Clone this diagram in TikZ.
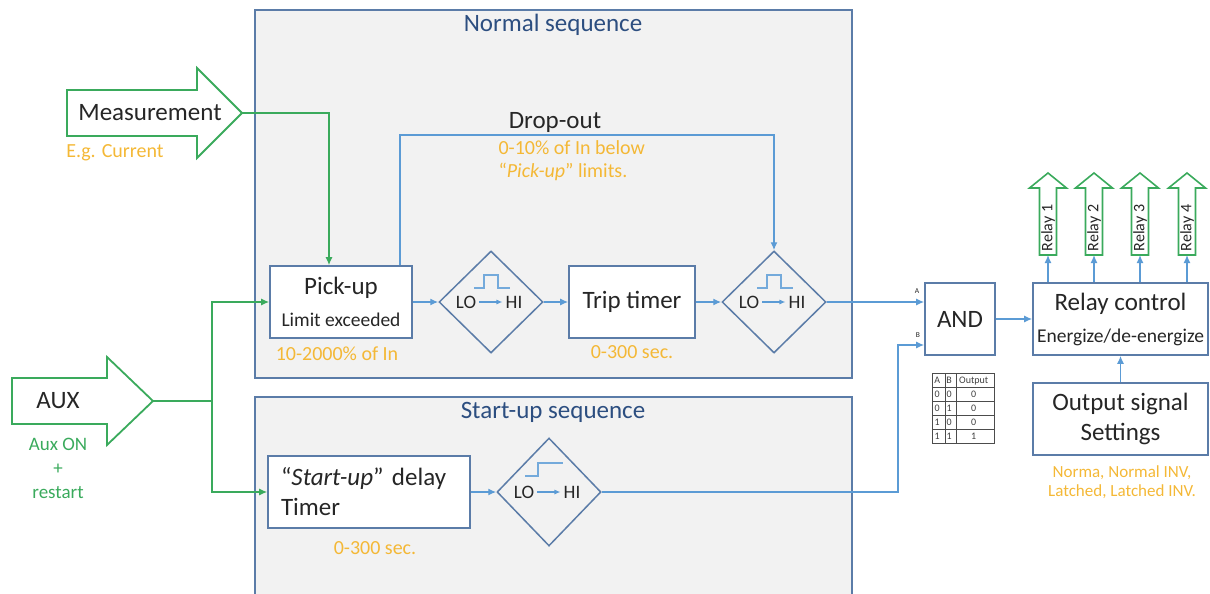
\documentclass[tikz,border=0pt]{standalone}
\usepackage{fontspec}
\setmainfont{Carlito}
\usetikzlibrary{shapes,arrows.meta,positioning,matrix,calc}
\definecolor{boxblue}{RGB}{91,124,168}
\definecolor{lineblue}{RGB}{91,155,213}
\definecolor{signalgreen}{RGB}{58,170,92}
\definecolor{noteorange}{RGB}{244,184,54}
\definecolor{titleblue}{RGB}{44,78,128}
\definecolor{panelgray}{RGB}{242,242,242}

\begin{document}
\begin{tikzpicture}[
    x=1pt, y=-1pt,
    every node/.style={align=center, text=black!85},
    panel/.style={draw=boxblue, fill=panelgray, line width=1.5pt},
    title/.style={text=titleblue, font=\fontsize{25}{30}\selectfont},
    block/.style={rectangle, draw=boxblue, fill=white, line width=1.6pt, inner sep=0pt, font=\fontsize{25}{30}\selectfont},
    gate/.style={diamond, draw=boxblue, line width=1.5pt, minimum width=104pt, minimum height=102pt, inner sep=0pt},
    bigtext/.style={font=\fontsize{25}{30}\selectfont},
    note/.style={text=noteorange, font=\fontsize{20}{23}\selectfont},
    greennote/.style={text=signalgreen, font=\fontsize{19}{24}\selectfont},
    lohi/.style={font=\fontsize{19}{22}\selectfont, inner xsep=3pt, inner ysep=0pt},
    bigarrow/.style={draw=signalgreen, fill=white, line width=1.8pt, line join=miter},
    icon/.style={draw=lineblue!85, line width=1.1pt},
    arrow/.style={draw=lineblue, line width=1.4pt, -{Latex[length=8pt,width=7pt]}},
    garrow/.style={draw=signalgreen, line width=1.4pt, -{Latex[length=8pt,width=7pt]}},
    gline/.style={draw=signalgreen, line width=1.4pt},
    truth/.style={matrix of nodes, column sep=-0.6pt, row sep=-0.6pt,
        nodes={draw=black!70, line width=0.6pt, inner sep=0pt, minimum height=14pt, font=\fontsize{10}{10}\selectfont, text=black!75},
        column 1/.style={nodes={minimum width=13pt}},
        column 2/.style={nodes={minimum width=11pt}},
        column 3/.style={nodes={minimum width=38pt}}}
]
\useasboundingbox (0,0) rectangle (1210,594);
\clip (0,0) rectangle (1210,594);

% Panels
\path[panel] (255,10) rectangle (852,378);
\path[panel] (255,397) rectangle (852,610);
\node[title] (normal_title) at (553,25) {Normal sequence};
\node[title] (startup_title) at (553,412) {Start-up sequence};

% Inputs
\draw[bigarrow] (67,90) -- (197,90) -- (197,68) -- (242,113) -- (197,158) -- (197,136) -- (67,136) -- cycle;
\coordinate (meas_tip) at (242,113);
\node[bigtext] (meas_label) at (150,113) {Measurement};
\node[note] (meas_note) at (115,153) {E.g. Current};

\draw[bigarrow] (12,378) -- (107,378) -- (107,357) -- (153,401) -- (107,445) -- (107,424) -- (12,424) -- cycle;
\coordinate (aux_tip) at (153,401);
\coordinate (aux_split) at (212,401);
\node[bigtext] (aux_label) at (58,401) {AUX};
\node[greennote] (aux_note) at (58,468) {Aux ON\\+\\restart};

% Normal sequence
\node[block, minimum width=142pt, minimum height=72pt] (pickup) at (341,302) {Pick-up\\[2pt]{\fontsize{19.5}{23}\selectfont Limit exceeded}};
\node[note] (pickup_note) at (337,354) {10-2000\% of In};
\node[gate] (hilo_a) at (491,302) {};
\node[block, minimum width=126pt, minimum height=72pt] (trip_timer) at (632,302) {Trip timer};
\node[note] (trip_note) at (632,352) {0-300 sec.};
\node[gate] (hilo_b) at (774,302) {};

\coordinate (drop_corner) at (774,135);
\node[bigtext] (drop_label) at (555,122) {Drop-out};
\node[note, align=left, anchor=west] (drop_note) at (495,161) {0-10\% of In below\\“\textit{Pick-up}” limits.};

% Start-up sequence
\node[block, minimum width=202pt, minimum height=72pt, text width=176pt, align=left] (startup_timer) at (369,492) {“\textit{Start-up}” delay\\Timer};
\node[note] (startup_note) at (375,548) {0-300 sec.};
\node[gate, minimum height=108pt] (hilo_c) at (549,492) {};

% LO -> HI marks
\foreach \hl in {hilo_a,hilo_b,hilo_c} {
    \node[lohi] (\hl_lo) at ([xshift=-25pt]\hl.center) {LO};
    \node[lohi] (\hl_hi) at ([xshift=23pt]\hl.center) {HI};
    \draw[draw=lineblue, line width=1.1pt, -{Latex[length=6pt,width=5pt]}] (\hl_lo) -- (\hl_hi);
}
\foreach \hl in {hilo_a,hilo_b}
    \draw[icon, shift={(\hl.center)}] (-17,-14) -- (-7,-14) -- (-7,-27) -- (7,-27) -- (7,-14) -- (19,-14);
\draw[icon, shift={(hilo_c.center)}] (-24,-16) -- (-11,-16) -- (-11,-29) -- (14,-29);

% Output side
\node[block, minimum width=70pt, minimum height=72pt] (and_gate) at (960,319) {AND};
\node[font=\fontsize{7.5}{8}\selectfont, inner sep=0pt] (in_a) at (917,291) {A};
\node[font=\fontsize{7.5}{8}\selectfont, inner sep=0pt] (in_b) at (918,335) {B};
\coordinate (b_bend) at (898,345);
\matrix[truth, anchor=north west] (truth_table) at (928,369) {
    A & B & Output \\
    0 & 0 & 0 \\
    0 & 1 & 0 \\
    1 & 0 & 0 \\
    1 & 1 & 1 \\
};

\node[block, minimum width=175pt, minimum height=72pt] (relay_ctrl) at (1120.5,319) {Relay control\\[2pt]{\fontsize{19.5}{23}\selectfont Energize/de-energize}};
\node[block, minimum width=175pt, minimum height=72pt] (out_set) at (1120.5,419) {Output signal\\Settings};
\node[note, font=\fontsize{17}{19.5}\selectfont] (out_note) at (1122,482) {Norma, Normal INV,\\Latched, Latched INV.};

% Connections
\draw[garrow] (meas_tip) -| ([xshift=-12pt]pickup.north);
\draw[gline] (aux_tip) -- (aux_split);
\draw[garrow] (aux_split) |- (pickup.west);
\draw[garrow] (aux_split) |- (startup_timer.west);

\draw[arrow] (pickup) -- (hilo_a);
\draw[arrow] (hilo_a) -- (trip_timer);
\draw[arrow] (trip_timer) -- (hilo_b);
\draw[arrow] ([xshift=59pt]pickup.north) |- (drop_corner) -- (hilo_b.north);
\draw[arrow] (hilo_b.east) -- (hilo_b.east -| and_gate.west);
\draw[arrow] (startup_timer) -- (hilo_c);
\draw[arrow] (hilo_c.east) -| (b_bend) -- (b_bend -| and_gate.west);
\draw[arrow] (and_gate) -- (relay_ctrl);
\draw[arrow] (out_set) -- (relay_ctrl);

% Relay outputs
\foreach \i/\x in {1/1048,2/1094,3/1140,4/1187} {
    \draw[bigarrow, line width=1.6pt] (\x-8.5,255) -- (\x-8.5,188) -- (\x-18.5,188) -- (\x,173) -- (\x+18.5,188) -- (\x+8.5,188) -- (\x+8.5,255) -- cycle;
    \node[rotate=90, inner sep=0pt, font=\fontsize{16}{18}\selectfont] (relay_\i) at (\x,228) {Relay \i};
    \coordinate (relay_\i_in) at (\x,255);
    \draw[arrow] (relay_ctrl.north -| relay_\i_in) -- (relay_\i_in);
}

\end{tikzpicture}
\end{document}
